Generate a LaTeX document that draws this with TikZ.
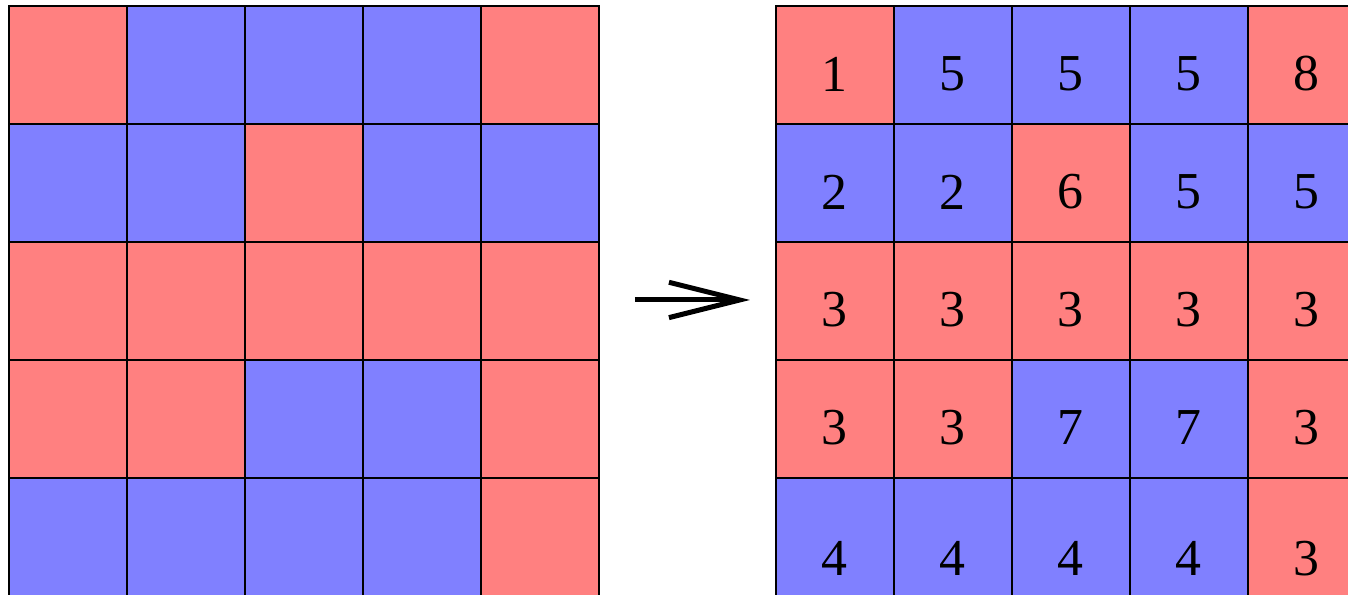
\documentclass[tikz,border=0pt]{standalone}
\usepackage{fontspec}
\setmainfont{Liberation Serif}
\usetikzlibrary{arrows.meta}

\colorlet{rcell}{red!50}
\colorlet{bcell}{blue!50}

\begin{document}
\begin{tikzpicture}[
    cell/.style={draw=black, line width=0.4pt},
    num/.style={font=\fontsize{12.5}{15}\selectfont, inner sep=0pt},
    step arrow/.style={line width=1.2pt, -{Straight Barb[length=0.6cm, width=0.3cm, line width=1.2pt]}}
]
\useasboundingbox (0,0) rectangle (11.424,-5.042);
\clip (0,0) rectangle (11.424,-5.042);

% both grids, row by row: colour / label
\foreach \cells [count=\r] in {
    {rcell/1,bcell/5,bcell/5,bcell/5,rcell/8},
    {bcell/2,bcell/2,rcell/6,bcell/5,bcell/5},
    {rcell/3,rcell/3,rcell/3,rcell/3,rcell/3},
    {rcell/3,rcell/3,bcell/7,bcell/7,rcell/3},
    {bcell/4,bcell/4,bcell/4,bcell/4,rcell/3}}{
  \foreach \c/\n [count=\k] in \cells {
    \pgfmathsetmacro\dy{\r==5 ? 0.18 : 0.076}
    % input grid
    \filldraw[cell, fill=\c] (0.076+\k-1, -0.051-\r+1) rectangle ++(1,-1);
    % labelled grid
    \filldraw[cell, fill=\c] (6.576+\k-1, -0.051-\r+1) rectangle ++(1,-1);
    \node[num] (n-\r-\k) at (6.576+\k-0.5, -0.051-\r+0.5-\dy) {\n};
  }
}

% arrow between the grids
\coordinate (tail) at (5.381,-2.542);
\coordinate (head) at (6.356,-2.542);
\draw[step arrow] (tail) -- (head);

\end{tikzpicture}
\end{document}
